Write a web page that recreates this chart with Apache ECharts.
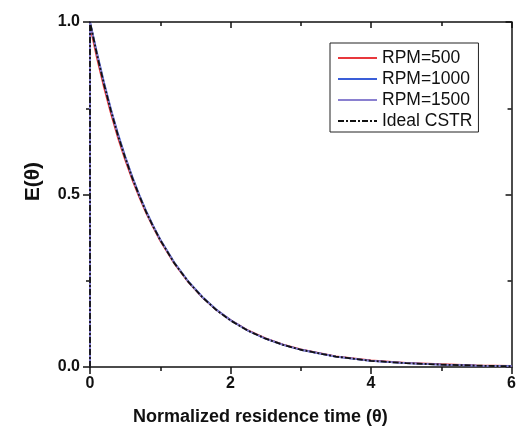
<!DOCTYPE html>
<html>
<head>
<meta charset="utf-8">
<script src="https://cdn.jsdelivr.net/npm/echarts@6/dist/echarts.min.js"></script>
<style>
  html, body { margin: 0; padding: 0; background: #fff; }
  #main { width: 519px; height: 432px; }
</style>
</head>
<body>
<div id="main"></div>
<script>
// normalized time (theta) and E(theta)
var theta = [0, 0, 0.1, 0.2, 0.3, 0.4, 0.5, 0.6, 0.7, 0.8, 0.9, 1.0, 1.2, 1.4, 1.6, 1.8, 2.0,
  2.25, 2.5, 2.75, 3.0, 3.5, 4.0, 4.5, 5.0, 5.5, 6.0];
var rpm500 = [0, 0.99, 0.895, 0.810, 0.733, 0.663, 0.601, 0.544, 0.493, 0.446, 0.405, 0.366, 0.300,
  0.246, 0.202, 0.165, 0.136, 0.106, 0.083, 0.065, 0.051, 0.031, 0.019, 0.012, 0.008, 0.005, 0.003];
var rpm1000 = [0, 1.0, 0.910, 0.825, 0.746, 0.675, 0.611, 0.553, 0.500, 0.452, 0.409, 0.370, 0.303,
  0.248, 0.203, 0.166, 0.136, 0.105, 0.082, 0.064, 0.050, 0.030, 0.018, 0.011, 0.007, 0.004, 0.003];
var rpm1500 = [0, 1.0, 0.907, 0.822, 0.744, 0.672, 0.609, 0.551, 0.498, 0.450, 0.408, 0.369, 0.302,
  0.247, 0.202, 0.165, 0.135, 0.105, 0.082, 0.064, 0.050, 0.030, 0.018, 0.011, 0.007, 0.004, 0.002];
var idealCstr = [0, 1.0, 0.905, 0.819, 0.741, 0.670, 0.607, 0.549, 0.497, 0.449, 0.407, 0.368, 0.301,
  0.247, 0.202, 0.165, 0.135, 0.105, 0.082, 0.064, 0.050, 0.030, 0.018, 0.011, 0.007, 0.004, 0.002];
var xTicks = [0, 2, 4, 6];
var yTicks = [0.0, 0.5, 1.0];

var chart = echarts.init(document.getElementById('main'));

function pairs(ys) {
  return theta.map(function (t, i) { return [t, ys[i]]; });
}

var font = 'Liberation Sans, Arial, sans-serif';
var axisLine = { show: true, onZero: false, lineStyle: { color: '#111', width: 1.5 } };

function line(name, ys, color, type) {
  return {
    name: name,
    type: 'line',
    data: pairs(ys),
    symbol: 'none',
    xAxisIndex: 0,
    yAxisIndex: 0,
    lineStyle: { color: color, width: 1.8, type: type || 'solid' },
    itemStyle: { color: color },
    animation: false
  };
}

var option = {
  backgroundColor: '#fff',
  grid: { left: 90, right: 6, top: 22, bottom: 65 },
  xAxis: [{
    type: 'value', position: 'bottom',
    min: xTicks[0], max: xTicks[xTicks.length - 1], interval: 2,
    axisLine: axisLine,
    axisTick: { show: true, inside: false, length: 7, lineStyle: { color: '#111', width: 1.5 } },
    minorTick: { show: true, splitNumber: 2, length: 4, lineStyle: { color: '#111', width: 1.5 } },
    axisLabel: { color: '#111', fontFamily: font, fontWeight: 'bold', fontSize: 16, margin: 9 },
    splitLine: { show: false }
  }, {
    type: 'value', position: 'top',
    min: xTicks[0], max: xTicks[xTicks.length - 1], interval: 2,
    axisLine: axisLine,
    axisTick: { show: true, inside: true, length: 6, lineStyle: { color: '#111', width: 1.5 } },
    minorTick: { show: true, splitNumber: 2, length: 4, lineStyle: { color: '#111', width: 1.5 } },
    axisLabel: { show: false },
    splitLine: { show: false }
  }],
  yAxis: [{
    type: 'value', position: 'left',
    min: yTicks[0], max: yTicks[yTicks.length - 1], interval: 0.5,
    axisLine: axisLine,
    axisTick: { show: true, inside: false, length: 7, lineStyle: { color: '#111', width: 1.5 } },
    minorTick: { show: true, splitNumber: 2, length: 4, lineStyle: { color: '#111', width: 1.5 } },
    axisLabel: {
      color: '#111', fontFamily: font, fontWeight: 'bold', fontSize: 16, margin: 10,
      formatter: function (v) { return v.toFixed(1); }
    },
    splitLine: { show: false }
  }, {
    type: 'value', position: 'right',
    min: yTicks[0], max: yTicks[yTicks.length - 1], interval: 0.5,
    axisLine: axisLine,
    axisTick: { show: true, inside: true, length: 6, lineStyle: { color: '#111', width: 1.5 } },
    minorTick: { show: true, splitNumber: 2, length: 4, lineStyle: { color: '#111', width: 1.5 } },
    axisLabel: { show: false },
    splitLine: { show: false }
  }],
  legend: {
    orient: 'vertical',
    left: 330, top: 43,
    align: 'left',
    itemWidth: 39, itemHeight: 12, itemGap: 3,
    padding: [6, 6, 2, 7],
    borderColor: '#222', borderWidth: 1,
    itemStyle: { opacity: 0 },
    textStyle: { color: '#111', fontFamily: font, fontSize: 17.5 },
    data: ['RPM=500', 'RPM=1000', 'RPM=1500', 'Ideal CSTR']
  },
  graphic: [{
    type: 'text', left: 133, top: 408,
    style: { text: 'Normalized residence time (θ)', fill: '#111',
      font: 'bold 18px Liberation Sans, Arial, sans-serif' }
  }, {
    type: 'text', left: 23, top: 162, rotation: Math.PI / 2,
    style: { text: 'E(θ)', fill: '#111',
      font: 'bold 21px Liberation Sans, Arial, sans-serif' }
  }],
  series: [
    line('RPM=500', rpm500, '#e8383c'),
    line('RPM=1000', rpm1000, '#3a5ed8'),
    line('RPM=1500', rpm1500, '#8a80d0'),
    line('Ideal CSTR', idealCstr, '#111', [6, 2, 2, 2])
  ]
};

chart.setOption(option);
</script>
</body>
</html>
